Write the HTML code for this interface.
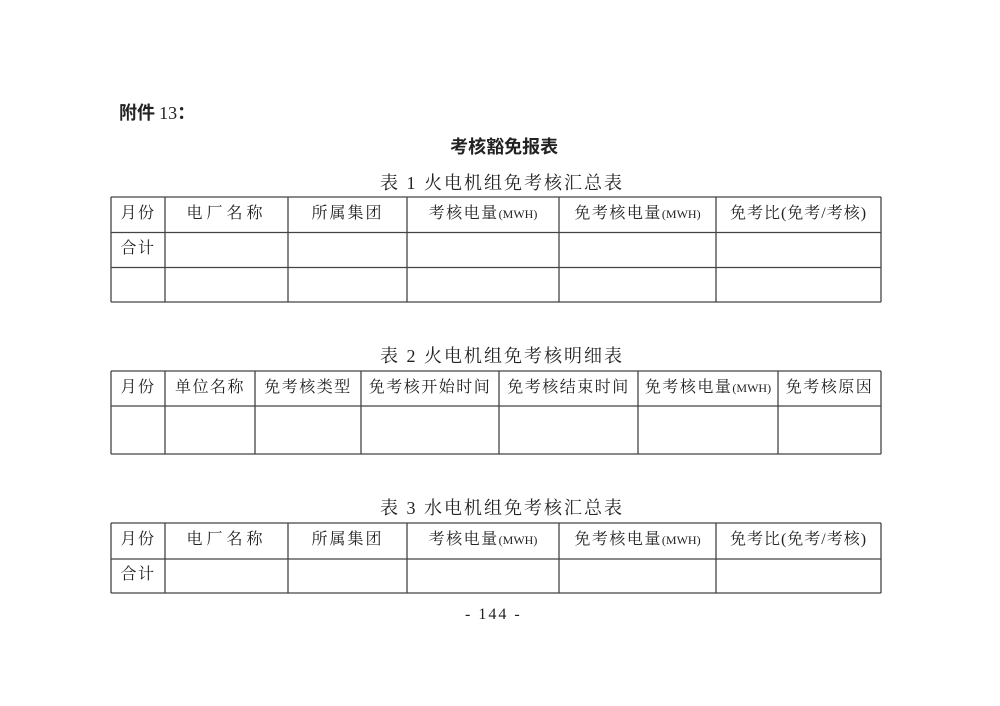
<!DOCTYPE html>
<html><head><meta charset="utf-8"><style>
body{margin:0;width:1000px;height:706px;background:#fff;position:relative;overflow:hidden;font-family:"Liberation Serif","Noto Serif CJK SC",serif;color:#222}
.t{position:absolute;white-space:nowrap}
.c{position:absolute;text-align:center;font-size:16px;letter-spacing:1.5px;line-height:20px}
</style></head><body>
<div class="t" style="left:119px;top:99px;font-size:18px;font-weight:bold;font-family:'Noto Sans CJK SC','Liberation Serif',serif">附件 <span style="font-family:'Liberation Serif',serif;font-weight:normal">13</span>：</div>
<div class="t" style="left:0;width:1000px;text-align:center;top:133px;font-size:18px;font-weight:bold;font-family:'Noto Sans CJK SC',sans-serif">&nbsp;&nbsp;考核豁免报表</div>
<div class="t" style="left:380px;top:169px;font-size:18px;letter-spacing:2px">表 1 火电机组免考核汇总表</div>
<div class="t" style="left:380px;top:342px;font-size:18px;letter-spacing:2px">表 2 火电机组免考核明细表</div>
<div class="t" style="left:380px;top:494px;font-size:18px;letter-spacing:2px">表 3 水电机组免考核汇总表</div>
<div class="t" style="left:465px;top:606px;font-size:16px;letter-spacing:2px">- 144 -</div>
<svg width="1000" height="706" style="position:absolute;left:0;top:0" stroke="#444" stroke-width="1.3">
<g>
<line x1="111" y1="197" x2="881" y2="197"/><line x1="111" y1="232.5" x2="881" y2="232.5"/><line x1="111" y1="267.5" x2="881" y2="267.5"/><line x1="111" y1="302" x2="881" y2="302"/>
<line x1="111" y1="197" x2="111" y2="302"/><line x1="165" y1="197" x2="165" y2="302"/><line x1="288" y1="197" x2="288" y2="302"/><line x1="407" y1="197" x2="407" y2="302"/><line x1="559" y1="197" x2="559" y2="302"/><line x1="716" y1="197" x2="716" y2="302"/><line x1="881" y1="197" x2="881" y2="302"/>
</g>
<g>
<line x1="111" y1="371" x2="881" y2="371"/><line x1="111" y1="406" x2="881" y2="406"/><line x1="111" y1="454" x2="881" y2="454"/>
<line x1="111" y1="371" x2="111" y2="454"/><line x1="165" y1="371" x2="165" y2="454"/><line x1="255" y1="371" x2="255" y2="454"/><line x1="361" y1="371" x2="361" y2="454"/><line x1="499" y1="371" x2="499" y2="454"/><line x1="638" y1="371" x2="638" y2="454"/><line x1="778" y1="371" x2="778" y2="454"/><line x1="881" y1="371" x2="881" y2="454"/>
</g>
<g>
<line x1="111" y1="523" x2="881" y2="523"/><line x1="111" y1="559" x2="881" y2="559"/><line x1="111" y1="593" x2="881" y2="593"/>
<line x1="111" y1="523" x2="111" y2="593"/><line x1="165" y1="523" x2="165" y2="593"/><line x1="288" y1="523" x2="288" y2="593"/><line x1="407" y1="523" x2="407" y2="593"/><line x1="559" y1="523" x2="559" y2="593"/><line x1="716" y1="523" x2="716" y2="593"/><line x1="881" y1="523" x2="881" y2="593"/>
</g>
</svg>
<div class="c" style="left:111px;width:54px;top:204px">月份</div>
<div class="c" style="left:165px;width:123px;top:204px;letter-spacing:4px">电厂名称</div>
<div class="c" style="left:288px;width:119px;top:204px;letter-spacing:2px">所属集团</div>
<div class="c" style="left:407px;width:152px;top:204px">考核电量<span style="font-size:12px;letter-spacing:0">(MWH)</span></div>
<div class="c" style="left:559px;width:157px;top:204px">免考核电量<span style="font-size:12px;letter-spacing:0">(MWH)</span></div>
<div class="c" style="left:716px;width:165px;top:204px;letter-spacing:1px">免考比(免考/考核)</div>
<div class="c" style="left:111px;width:54px;top:239px">合计</div>
<div class="c" style="left:111px;width:54px;top:378px">月份</div>
<div class="c" style="left:165px;width:90px;top:378px">单位名称</div>
<div class="c" style="left:255px;width:106px;top:378px">免考核类型</div>
<div class="c" style="left:361px;width:138px;top:378px">免考核开始时间</div>
<div class="c" style="left:499px;width:139px;top:378px">免考核结束时间</div>
<div class="c" style="left:638px;width:140px;top:378px">免考核电量<span style="font-size:12px;letter-spacing:0">(MWH)</span></div>
<div class="c" style="left:778px;width:103px;top:378px">免考核原因</div>
<div class="c" style="left:111px;width:54px;top:530px">月份</div>
<div class="c" style="left:165px;width:123px;top:530px;letter-spacing:4px">电厂名称</div>
<div class="c" style="left:288px;width:119px;top:530px;letter-spacing:2px">所属集团</div>
<div class="c" style="left:407px;width:152px;top:530px">考核电量<span style="font-size:12px;letter-spacing:0">(MWH)</span></div>
<div class="c" style="left:559px;width:157px;top:530px">免考核电量<span style="font-size:12px;letter-spacing:0">(MWH)</span></div>
<div class="c" style="left:716px;width:165px;top:530px;letter-spacing:1px">免考比(免考/考核)</div>
<div class="c" style="left:111px;width:54px;top:565px">合计</div>
</body></html>
